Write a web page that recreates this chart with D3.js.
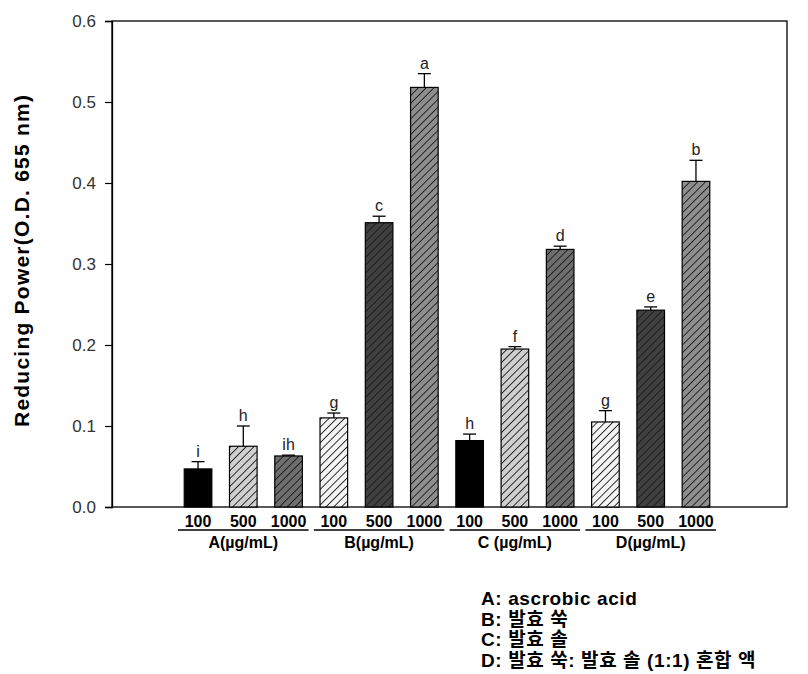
<!DOCTYPE html>
<html>
<head>
<meta charset="utf-8">
<script src="https://cdn.jsdelivr.net/npm/d3@7"></script>
<style>
  body { margin: 0; background: #fff; }
  svg { display: block; font-family: Arial, "Liberation Sans", sans-serif; }
</style>
</head>
<body>
<svg width="808" height="674"></svg>
<script>
// Data
const groups = ["A", "B", "C", "D"];
const groupLabels = ["A(\u00b5g/mL)", "B(\u00b5g/mL)", "C (\u00b5g/mL)", "D(\u00b5g/mL)"];
const doses = ["100", "500", "1000"];
const means = [0.047, 0.075, 0.063, 0.110, 0.351, 0.518, 0.082, 0.195, 0.318, 0.105, 0.243, 0.402];
const errors = [0.009, 0.025, 0.001, 0.006, 0.008, 0.017, 0.008, 0.003, 0.004, 0.014, 0.004, 0.026];
const letters = ["i", "h", "ih", "g", "c", "a", "h", "f", "d", "g", "e", "b"];
const fills = ["solid", "light", "mid", "white", "dark", "gray", "solid", "light", "mid", "white", "dark", "gray"];
const yTicks = [0, 0.1, 0.2, 0.3, 0.4, 0.5, 0.6];
const legendLines = ["A: ascrobic acid", "B: 발효 쑥", "C: 발효 솔", "D: 발효 쑥: 발효 솔 (1:1) 혼합 액"];

const svg = d3.select("svg");

// Plot frame
const plotLeft = 112, plotRight = 787, plotTop = 21, plotBottom = 507;

const y = d3.scaleLinear().domain([0, 0.6]).range([plotBottom, plotTop]);

const keys = means.map((d, i) => i);
const x = d3.scalePoint().domain(keys).range([175.4, 718.6]).padding(0.5);
const barW = x.step() * 0.61;

// Hatch patterns
const defs = svg.append("defs");
const patternColors = { light: "#cfcfcf", mid: "#6e6e6e", white: "#f4f4f4", dark: "#404040", gray: "#8e8e8e" };
Object.entries(patternColors).forEach(([name, bg]) => {
    const p = defs.append("pattern")
        .attr("id", "hatch-" + name)
        .attr("patternUnits", "userSpaceOnUse")
        .attr("width", 5.5)
        .attr("height", 5.5)
        .attr("patternTransform", "rotate(45)");
    p.append("rect").attr("width", 5.5).attr("height", 5.5).attr("fill", bg);
    p.append("line")
        .attr("x1", 0).attr("y1", 0).attr("x2", 0).attr("y2", 5.5)
        .attr("stroke", "#1a1a1a")
        .attr("stroke-width", 1.8);
});

function fillOf(f) {
    return f === "solid" ? "#000" : "url(#hatch-" + f + ")";
}

// Box around the plot
svg.append("rect")
    .attr("x", plotLeft)
    .attr("y", plotTop)
    .attr("width", plotRight - plotLeft)
    .attr("height", plotBottom - plotTop)
    .attr("fill", "none")
    .attr("stroke", "#000")
    .attr("stroke-width", 1.3);

// Y axis
const yAxis = svg.append("g")
    .attr("transform", `translate(${plotLeft},0)`)
    .call(d3.axisLeft(y).tickValues(yTicks).tickFormat(d3.format(".1f")).tickSize(7).tickPadding(9));
yAxis.select(".domain").attr("stroke-width", 1.3);
yAxis.selectAll(".tick line").attr("stroke-width", 1.2);
yAxis.selectAll("text")
    .style("font-size", "17px")
    .style("fill", "#333")
    .style("font-family", "Arial, 'Liberation Sans', sans-serif");

// Y axis title
svg.append("text")
    .attr("transform", `translate(29, 261) rotate(-90)`)
    .attr("text-anchor", "middle")
    .attr("textLength", 332)
    .attr("lengthAdjust", "spacing")
    .style("font-size", "21px")
    .style("font-weight", "bold")
    .text("Reducing Power(O.D. 655 nm)");

// Error bars (drawn first so bars overlap the stem)
const errG = svg.append("g");
keys.forEach(i => {
    const cx = x(i);
    const top = y(means[i] + errors[i]);
    errG.append("line")
        .attr("x1", cx).attr("x2", cx)
        .attr("y1", y(means[i])).attr("y2", top)
        .attr("stroke", "#000").attr("stroke-width", 1.3);
    errG.append("line")
        .attr("x1", cx - 6.5).attr("x2", cx + 6.5)
        .attr("y1", top).attr("y2", top)
        .attr("stroke", "#000").attr("stroke-width", 1.3);
});

// Bars
svg.append("g")
    .selectAll("rect")
    .data(keys)
    .join("rect")
    .attr("x", i => x(i) - barW / 2)
    .attr("y", i => y(means[i]))
    .attr("width", barW)
    .attr("height", i => plotBottom - y(means[i]))
    .attr("fill", i => fillOf(fills[i]))
    .attr("stroke", "#000")
    .attr("stroke-width", 1.2);

// Significance letters
svg.append("g")
    .selectAll("text")
    .data(keys)
    .join("text")
    .attr("x", i => x(i))
    .attr("y", i => y(means[i] + errors[i]) - 5)
    .attr("text-anchor", "middle")
    .style("font-size", "16px")
    .style("fill", "#222")
    .text(i => letters[i]);

// Dose labels and group labels
const labelG = svg.append("g");
keys.forEach(i => {
    labelG.append("text")
        .attr("x", x(i))
        .attr("y", 527)
        .attr("text-anchor", "middle")
        .style("font-size", "16px")
        .style("font-weight", "bold")
        .text(doses[i % 3]);
});
groups.forEach((g, gi) => {
    const first = x(gi * 3), last = x(gi * 3 + 2);
    labelG.append("line")
        .attr("x1", first - 20).attr("x2", last + 20)
        .attr("y1", 530).attr("y2", 530)
        .attr("stroke", "#000").attr("stroke-width", 1.3);
    labelG.append("text")
        .attr("x", (first + last) / 2)
        .attr("y", 548)
        .attr("text-anchor", "middle")
        .style("font-size", "16px")
        .style("font-weight", "bold")
        .text(groupLabels[gi]);
});

// Legend note
const legend = svg.append("g").attr("transform", "translate(481, 605)");
legend.selectAll("text")
    .data(legendLines)
    .join("text")
    .attr("x", 0)
    .attr("y", (d, i) => i * 20.5)
    .style("font-size", "19px")
    .style("font-weight", "bold")
    .style("letter-spacing", "0.6px")
    .style("font-family", "Arial, 'Liberation Sans', 'Noto Sans CJK KR', sans-serif")
    .text(d => d);
</script>
</body>
</html>
